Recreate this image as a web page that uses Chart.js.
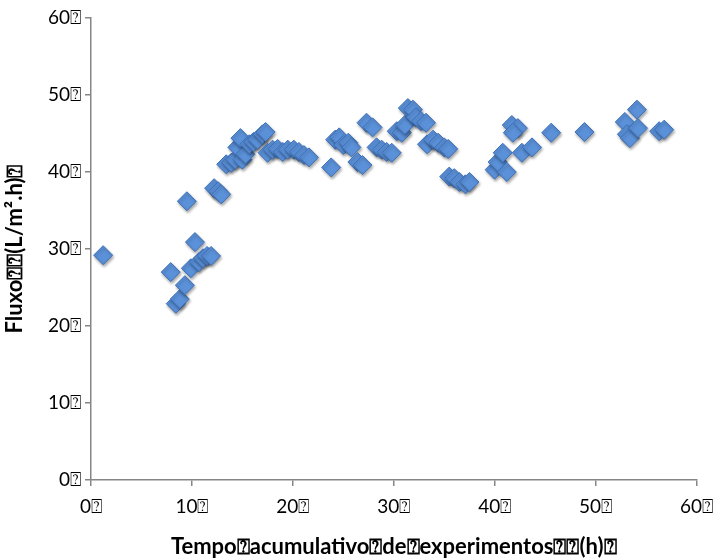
<!DOCTYPE html>
<html lang="pt">
<head>
    <meta charset="UTF-8">
    <title>Fluxo vs Tempo acumulativo</title>
    <script src="https://cdn.jsdelivr.net/npm/chart.js"></script>
    <style>
        body {
            margin: 0;
            padding: 0;
            background-color: #ffffff;
        }
        .chart-container {
            width: 722px;
            height: 560px;
        }
    </style>
</head>
<body>

<div class="chart-container">
    <canvas id="fluxoChart" width="722" height="560"></canvas>
</div>

<script>
    // Dados
    const tempoHoras = [
        1.2, 7.9, 8.4, 8.8, 9.3, 9.5, 9.9, 10.3, 10.7, 11.1, 11.5, 11.9,
        12.2, 12.6, 12.9, 13.4, 13.9, 14.3, 14.5, 14.8, 15.0, 15.3, 15.7, 16.1,
        16.5, 17.0, 17.3, 17.5, 18.0, 18.5, 19.0, 19.5, 20.1, 20.6, 21.1, 21.6,
        23.8, 24.2, 24.6, 25.0, 25.5, 25.8, 26.4, 26.9, 27.3, 27.9, 28.3, 28.8,
        29.3, 29.8, 30.3, 30.8, 31.1, 31.4, 31.9, 32.2, 32.7, 33.2, 33.3, 33.9,
        34.4, 35.0, 35.4, 35.5, 36.0, 36.5, 37.1, 37.5, 40.0, 40.3, 40.8, 41.2,
        41.7, 42.3, 41.8, 42.7, 43.7, 45.6, 48.9, 52.9, 53.1, 53.4, 54.1, 54.2,
        56.3, 56.8
    ];
    const fluxo = [
        29.2, 27.0, 22.9, 23.5, 25.3, 36.2, 27.5, 30.9, 28.3, 28.8, 29.1, 29.1,
        37.9, 37.5, 37.1, 41.0, 41.2, 41.6, 43.2, 44.4, 41.6, 42.3, 43.6, 43.9,
        44.2, 44.9, 45.2, 42.5, 42.9, 43.0, 42.6, 42.9, 42.9, 42.6, 42.2, 41.9,
        40.6, 44.2, 44.5, 43.5, 43.8, 43.2, 41.3, 40.9, 46.4, 45.8, 43.2, 42.9,
        42.6, 42.5, 45.3, 45.1, 46.1, 48.3, 48.1, 47.1, 46.6, 46.4, 43.6, 44.2,
        43.8, 43.2, 43.0, 39.4, 39.2, 38.7, 38.4, 38.7, 40.3, 41.3, 42.5, 40.0,
        46.1, 45.7, 45.1, 42.5, 43.2, 45.1, 45.2, 46.5, 44.9, 44.4, 48.1, 45.7,
        45.3, 45.5
    ];
    const marcasX = [0, 10, 20, 30, 40, 50, 60];
    const marcasY = [0, 10, 20, 30, 40, 50, 60];

    const caixa = '\u2370';
    const corEixo = '#868686';
    const fonteBase = "Lato, 'Open Sans', 'DejaVu Sans', sans-serif";

    // Sombra suave sob os marcadores
    const sombraPontos = {
        id: 'sombraPontos',
        beforeDatasetDraw(chart) {
            const ctx = chart.ctx;
            ctx.save();
            ctx.shadowColor = 'rgba(0, 0, 0, 0.35)';
            ctx.shadowBlur = 3;
            ctx.shadowOffsetX = 1;
            ctx.shadowOffsetY = 2;
        },
        afterDatasetDraw(chart) {
            chart.ctx.restore();
        }
    };

    const ctx = document.getElementById('fluxoChart').getContext('2d');
    const fluxoChart = new Chart(ctx, {
        type: 'scatter',
        data: {
            datasets: [{
                label: 'Fluxo',
                data: tempoHoras.map((t, i) => ({ x: t, y: fluxo[i] })),
                pointStyle: 'rectRot',
                pointRadius: 9.5,
                pointHoverRadius: 9.5,
                backgroundColor: '#5b91d9',
                borderColor: '#3d70b8',
                borderWidth: 1
            }]
        },
        options: {
            responsive: false,
            animation: false,
            layout: {
                padding: { left: 0, right: 25, top: 18, bottom: 0 }
            },
            plugins: {
                legend: { display: false },
                tooltip: { enabled: false }
            },
            scales: {
                x: {
                    type: 'linear',
                    min: 0,
                    max: 60,
                    afterBuildTicks: s => { s.ticks = marcasX.map(v => ({ value: v })); },
                    afterFit: s => { s.height = 80; },
                    border: { display: true, color: corEixo, width: 1.5 },
                    grid: { drawOnChartArea: false, drawTicks: true, tickLength: 6, color: corEixo, lineWidth: 1.5 },
                    ticks: {
                        padding: 9,
                        maxRotation: 0,
                        color: '#000000',
                        font: { family: fonteBase, size: 19 },
                        callback: v => v + caixa
                    },
                    title: {
                        display: true,
                        text: 'Tempo' + caixa + 'acumulativo' + caixa + 'de' + caixa + 'experimentos' + caixa + caixa + '(h)' + caixa,
                        color: '#000000',
                        font: { family: fonteBase, size: 22, weight: 'bold' },
                        padding: { top: 0, bottom: 0 }
                    }
                },
                y: {
                    type: 'linear',
                    min: 0,
                    max: 60,
                    afterBuildTicks: s => { s.ticks = marcasY.map(v => ({ value: v })); },
                    afterFit: s => { s.width = 91; },
                    border: { display: true, color: corEixo, width: 1.5 },
                    grid: { drawOnChartArea: false, drawTicks: true, tickLength: 6, color: corEixo, lineWidth: 1.5 },
                    ticks: {
                        padding: 4,
                        color: '#000000',
                        font: { family: fonteBase, size: 19 },
                        callback: v => v + caixa
                    },
                    title: {
                        display: true,
                        text: 'Fluxo' + caixa + caixa + '(L/m\u00b2.h)' + caixa,
                        color: '#000000',
                        font: { family: fonteBase, size: 22, weight: 'bold' },
                        padding: { top: 2, bottom: 0 }
                    }
                }
            }
        },
        plugins: [sombraPontos]
    });
</script>

</body>
</html>
